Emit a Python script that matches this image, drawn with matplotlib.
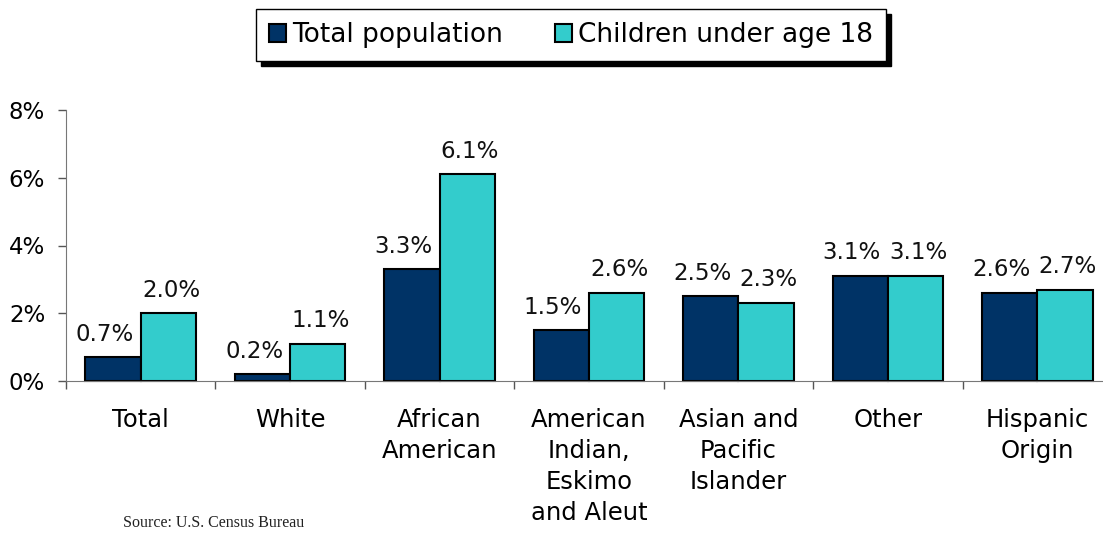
import matplotlib.pyplot as plt
import numpy as np

categories = ["Total", "White", "African\nAmerican", "American\nIndian,\nEskimo\nand Aleut",
              "Asian and\nPacific\nIslander", "Other", "Hispanic\nOrigin"]
total_pop = [0.7, 0.2, 3.3, 1.5, 2.5, 3.1, 2.6]
children = [2.0, 1.1, 6.1, 2.6, 2.3, 3.1, 2.7]
y_ticks = [0, 2, 4, 6, 8]

navy = "#003366"
teal = "#33CCCC"
font = "DejaVu Sans"

fig = plt.figure(figsize=(11.03, 5.34), dpi=100)
ax = fig.add_axes([66 / 1103, 153 / 534, 1046 / 1103, 271 / 534])

x = np.arange(len(categories))
w = 0.37
b1 = ax.bar(x - w / 2, total_pop, w, color=navy, edgecolor="black", linewidth=1.5,
            label="Total population", clip_on=False)
b2 = ax.bar(x + w / 2, children, w, color=teal, edgecolor="black", linewidth=1.5,
            label="Children under age 18", clip_on=False)

# value labels, the navy ones sit a little left of their bar as in the original
for bars, vals, dx in ((b1, total_pop, -6), (b2, children, 2)):
    for r, v in zip(bars, vals):
        ax.annotate(f"{v:.1f}%", (r.get_x() + r.get_width() / 2, v),
                    xytext=(dx, 12), textcoords="offset points",
                    ha="center", va="baseline", fontsize=16.5, family=font, color="#111111")

ax.set_xlim(-0.5, len(categories) - 0.5)
ax.set_ylim(0, 8)
ax.set_yticks(y_ticks)
ax.set_yticklabels([f"{t}%" for t in y_ticks], fontsize=16.5, family=font)

# category labels between ticks at the group boundaries
ax.set_xticks(np.arange(len(categories) + 1) - 0.5)
ax.set_xticklabels([])
ax.tick_params(axis="x", length=6, color="#555555", width=1)
ax.tick_params(axis="y", length=6, color="#555555", width=1, pad=9)
for i, c in enumerate(categories):
    ax.text(i, -0.8, c, ha="center", va="top", fontsize=17.5, family=font,
            linespacing=1.37, transform=ax.transData)

for s in ["top", "right"]:
    ax.spines[s].set_visible(False)
ax.spines["left"].set_color("#777777")
ax.spines["bottom"].set_color("#777777")

leg = fig.legend(handles=[b1, b2], loc="center", bbox_to_anchor=(571 / 1103, 1 - 35 / 534),
                 ncol=2, frameon=True, fancybox=False, edgecolor="black",
                 shadow={"color": "black", "alpha": 1, "ox": 3.5, "oy": -3.5},
                 prop={"family": font, "size": 19}, handlelength=0.65, handleheight=0.65,
                 handletextpad=0.2, columnspacing=2.0, borderpad=0.5, borderaxespad=0)
leg.get_frame().set_linewidth(1)

fig.text(123 / 1103, 1 - 523 / 534, "Source: U.S. Census Bureau", family="Liberation Serif",
         fontsize=11.5, va="center", ha="left", color="#222222")

fig.savefig("out.png", dpi=100)
